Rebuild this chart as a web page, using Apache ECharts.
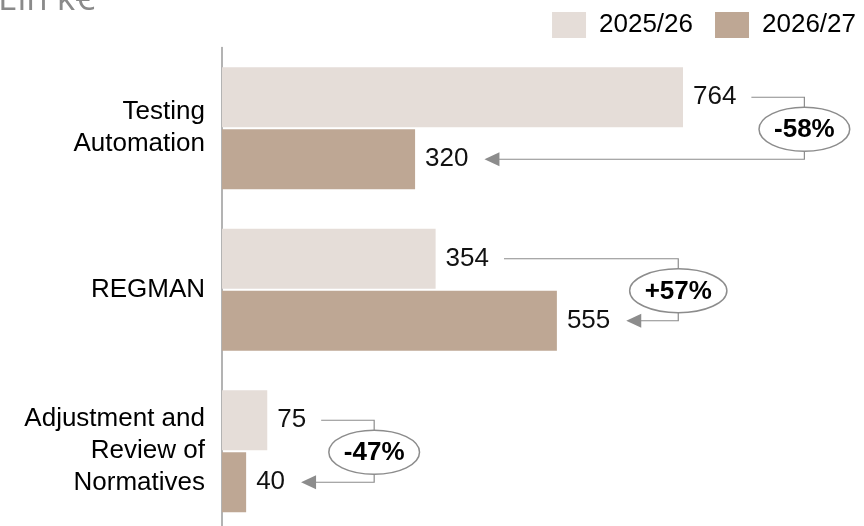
<!DOCTYPE html>
<html>
<head>
<meta charset="utf-8">
<script src="https://cdn.jsdelivr.net/npm/echarts@6/dist/echarts.min.js"></script>
<style>
  html, body { margin: 0; padding: 0; background: #fff; }
  #main { width: 864px; height: 526px; }
</style>
</head>
<body>
<div id="main"></div>
<script>
// data
const categories = ['Testing\nAutomation', 'REGMAN', 'Adjustment and\nReview of\nNormatives'];
const seriesNames = ['2025/26', '2026/27'];
const values2526 = [764, 354, 75];
const values2627 = [320, 555, 40];
const changeLabels = ['-58%', '+57%', '-47%'];

const FONT = '"Liberation Sans", Arial, sans-serif';
const LIGHT = '#e5ddd8';
const DARK = '#bea794';
const GREY = '#8c8c8c';

// text width helper, used to place the connectors after the value labels
const ctx = document.createElement('canvas').getContext('2d');
function textWidth(str, font) {
  ctx.font = font;
  return ctx.measureText(str).width;
}

const chart = echarts.init(document.getElementById('main'));

function renderChange(params, api) {
  const i = params.dataIndex;
  const v1 = api.value(1);
  const v2 = api.value(2);
  const c = api.coord([0, i]);
  const y1 = c[1] - 31;
  const y2 = c[1] + 31;
  const labFont = '26px ' + FONT;
  const end1 = api.coord([v1, i])[0] + 10 + textWidth(String(v1), labFont);
  const end2 = api.coord([v2, i])[0] + 10 + textWidth(String(v2), labFont);
  const bx = Math.max(end1, end2) + 68;
  const tip = end2 + 16;
  const pctW = textWidth(changeLabels[i], 'bold 26px ' + FONT);
  const lineStyle = { stroke: GREY, lineWidth: 1.2, fill: null };
  return {
    type: 'group',
    children: [
      { type: 'polyline', shape: { points: [[end1 + 15, y1], [bx, y1], [bx, y2], [tip + 14, y2]] }, style: lineStyle },
      { type: 'polygon', shape: { points: [[tip, y2], [tip + 15, y2 - 7], [tip + 15, y2 + 7]] }, style: { fill: GREY } },
      { type: 'ellipse', shape: { cx: bx, cy: c[1] + 1, rx: pctW / 2 + 15, ry: 22 }, style: { fill: '#fff', stroke: GREY, lineWidth: 1.5 } },
      { type: 'text', x: bx, y: c[1] + 2, style: { text: changeLabels[i], font: 'bold 26px ' + FONT, fill: '#000', align: 'center', verticalAlign: 'middle' } }
    ]
  };
}

chart.setOption({
  animation: false,
  textStyle: { fontFamily: FONT },
  graphic: [{
    type: 'text', left: -2, top: -17,
    style: { text: 'Ein k€', font: '35px "Open Sans", sans-serif', fill: '#8a8a8a' }
  }],
  legend: {
    data: seriesNames,
    right: 3, top: 7,
    itemWidth: 34, itemHeight: 26, itemGap: 22,
    icon: 'rect',
    textStyle: { fontSize: 26, color: '#000', fontFamily: FONT, padding: [0, 0, 0, 8] }
  },
  grid: { left: 222, right: 38.6, top: 47.5, height: 484.5, containLabel: false, outerBoundsMode: 'none' },
  xAxis: { type: 'value', min: 0, max: 1000, show: false },
  yAxis: {
    type: 'category',
    inverse: true,
    data: categories,
    axisLine: { show: true, lineStyle: { color: '#9a9a9a', width: 1.5 } },
    axisTick: { show: false },
    axisLabel: { fontSize: 26, lineHeight: 32, color: '#000', margin: 17, align: 'right', fontFamily: FONT }
  },
  series: [
    {
      name: seriesNames[0], type: 'bar', data: values2526,
      barWidth: 60, barGap: '3.3%',
      itemStyle: { color: LIGHT },
      label: { show: true, position: 'right', distance: 10, fontSize: 26, color: '#111', fontFamily: FONT }
    },
    {
      name: seriesNames[1], type: 'bar', data: values2627,
      barWidth: 60, barGap: '3.3%',
      itemStyle: { color: DARK },
      label: { show: true, position: 'right', distance: 10, fontSize: 26, color: '#111', fontFamily: FONT }
    },
    {
      type: 'custom', name: 'change',
      data: categories.map((c, i) => [i, values2526[i], values2627[i]]),
      encode: { y: 0, x: [1, 2] },
      renderItem: renderChange,
      z: 5, silent: true
    }
  ]
});
</script>
</body>
</html>
